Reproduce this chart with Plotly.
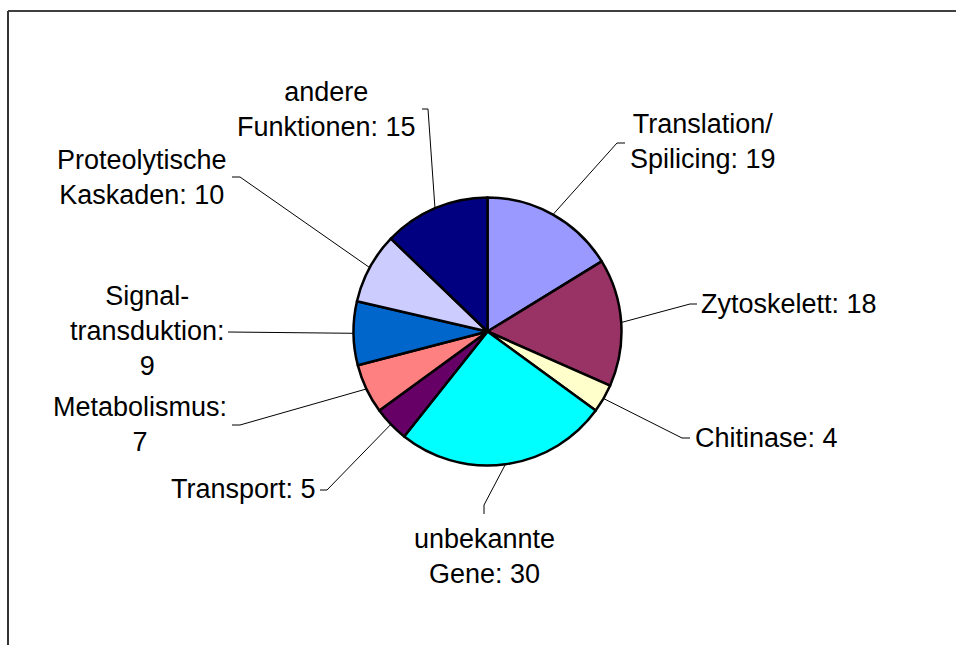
import math
import plotly.graph_objects as go

# ---- data ----
categories = ["Translation/<br>Spilicing", "Zytoskelett", "Chitinase", "unbekannte<br>Gene",
              "Transport", "Metabolismus", "Signal-<br>transduktion", "Proteolytische<br>Kaskaden",
              "andere<br>Funktionen"]
values = [19, 18, 4, 30, 5, 7, 9, 10, 15]
colors = ["#9999FF", "#993366", "#FFFFCC", "#00FFFF", "#660066", "#FF8080", "#0066CC", "#CCCCFF", "#000080"]
# label texts as displayed (value separator / line breaks)
label_fmt = ["{c}: {v}", "{c}: {v}", "{c}: {v}", "{c}: {v}", "{c}: {v}", "{c}:<br>{v}",
             "{c}:<br>{v}", "{c}: {v}", "{c}: {v}"]

# ---- layout (pixels) ----
W, H = 956, 645
CX, CY, R = 487.5, 331.5, 134
# elbow point of leader, end of short tick, label anchor (x, y, xanchor)
elbow = [(617, 143), (690, 304), (682, 438), (484, 505), (327, 490), (240, 425), (228, 332), (240, 177), (428, 109)]
tick_end = [(625, 143), (697, 304), (690, 438), (484, 514), (320, 490), (232, 425), (228, 332), (232, 177), (422, 109)]
label_pos = [(703, 141, "center"), (699, 304, "left"), (693, 438, "left"), (484, 556, "center"),
             (318, 489, "right"), (140, 424, "center"), (147, 331, "center"), (142, 177, "center"),
             (326, 109, "center")]

FONT = dict(family="Liberation Sans, Arial, sans-serif", size=27, color="black")

fig = go.Figure()
fig.add_trace(go.Pie(
    labels=[c.replace("<br>", " ") for c in categories], values=values, sort=False,
    direction="clockwise", rotation=0, textinfo="none", hoverinfo="label+value",
    marker=dict(colors=colors, line=dict(color="black", width=2.5)),
    domain=dict(x=[(CX - R) / W, (CX + R) / W], y=[(H - CY - R) / H, (H - CY + R) / H]),
    showlegend=False,
))

total = sum(values)
cum = 0
for i, v in enumerate(values):
    mid = (cum + v / 2) / total * 2 * math.pi
    cum += v
    ex = CX + R * math.sin(mid)
    ey = CY - R * math.cos(mid)
    xs = [ex, elbow[i][0], tick_end[i][0]]
    ys = [ey, elbow[i][1], tick_end[i][1]]
    fig.add_trace(go.Scatter(x=xs, y=ys, mode="lines", line=dict(color="black", width=1),
                             hoverinfo="skip", showlegend=False))
    lx, ly, anc = label_pos[i]
    fig.add_annotation(x=lx, y=ly, xref="x", yref="y", text=label_fmt[i].format(c=categories[i], v=v),
                       showarrow=False, xanchor=anc, yanchor="middle", align="center", font=FONT)

# frame
fig.add_shape(type="line", x0=8, x1=W + 5, y0=11, y1=11, xref="x", yref="y", line=dict(color="black", width=1.5))
fig.add_shape(type="line", x0=8, x1=8, y0=11, y1=H + 5, xref="x", yref="y", line=dict(color="#333333", width=2))

fig.update_layout(
    width=W, height=H, margin=dict(l=0, r=0, t=0, b=0),
    paper_bgcolor="white", plot_bgcolor="rgba(0,0,0,0)",
    xaxis=dict(range=[0, W], visible=False, fixedrange=True),
    yaxis=dict(range=[H, 0], visible=False, fixedrange=True),
)

fig.write_html("out.html", config={"displayModeBar": False},
               post_script="document.body.style.margin='0';document.body.style.overflow='hidden';")
